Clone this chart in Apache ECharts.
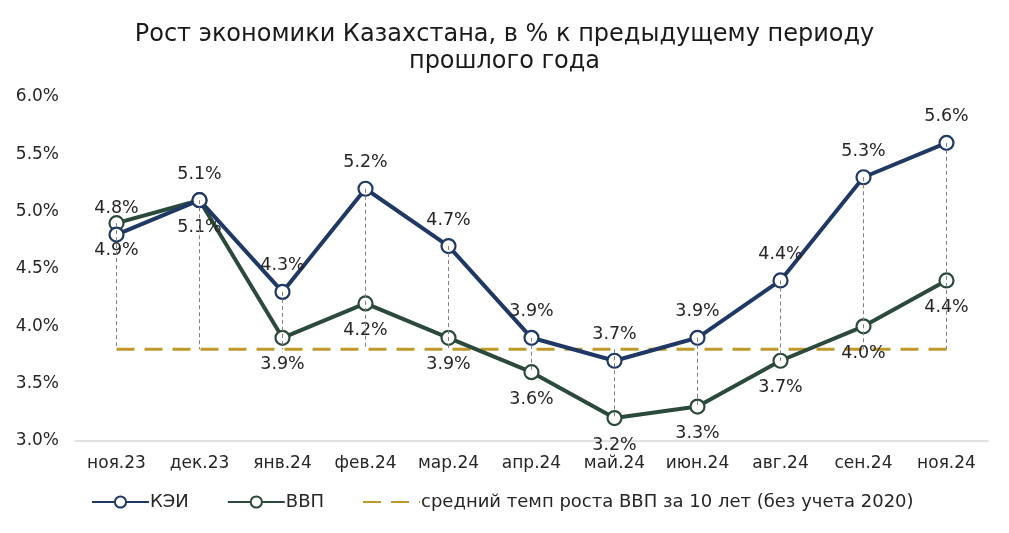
<!DOCTYPE html>
<html><head><meta charset="utf-8">
<script src="https://cdn.jsdelivr.net/npm/echarts@6/dist/echarts.min.js"></script>
<style>html,body{margin:0;padding:0;background:#fff}#c{width:1009px;height:533px}</style>
</head><body><div id="c"></div>
<script>
const categories = ['ноя.23','дек.23','янв.24','фев.24','мар.24','апр.24','май.24','июн.24','авг.24','сен.24','ноя.24'];
const kei = [4.8, 5.1, 4.3, 5.2, 4.7, 3.9, 3.7, 3.9, 4.4, 5.3, 5.6];
const vvp = [4.9, 5.1, 3.9, 4.2, 3.9, 3.6, 3.2, 3.3, 3.7, 4.0, 4.4];
const avg = [3.8, 3.8, 3.8, 3.8, 3.8, 3.8, 3.8, 3.8, 3.8, 3.8, 3.8];
const yTicks = [3.0, 3.5, 4.0, 4.5, 5.0, 5.5, 6.0];

const FONT = 'DejaVu Sans';
const hiLo = categories.map((c, i) => {
  const vals = [kei[i], vvp[i], avg[i]];
  return [{coord: [i, Math.max(...vals)]}, {coord: [i, Math.min(...vals)]}];
});
const chart = echarts.init(document.getElementById('c'), null, {renderer: 'canvas'});
chart.setOption({
  animation: false,
  textStyle: {fontFamily: FONT},
  title: {
    text: 'Рост экономики Казахстана, в % к предыдущему периоду\nпрошлого года',
    left: 'center', top: 16,
    textStyle: {fontFamily: FONT, fontSize: 24, fontWeight: 'normal', color: '#1a1a1a', lineHeight: 27}
  },
  grid: {left: 75, right: 21, top: 97, bottom: 92},
  legend: {
    bottom: 17, left: 86,
    itemWidth: 57, itemHeight: 14, itemGap: 38,
    textStyle: {fontFamily: FONT, fontSize: 18, color: '#262626', padding: [0, 0, 0, -4]},
    data: ['КЭИ', 'ВВП', {name: 'средний темп роста ВВП за 10 лет (без учета 2020)', itemStyle: {opacity: 0}}]
  },
  xAxis: {
    type: 'category', data: categories, boundaryGap: true,
    axisLine: {lineStyle: {color: '#d9d9d9', width: 1.5}},
    axisTick: {show: false},
    axisLabel: {fontFamily: FONT, fontSize: 17, color: '#262626', margin: 14, interval: 0}
  },
  yAxis: {
    type: 'value', min: 3.0, max: 6.0, interval: 0.5,
    splitLine: {show: false}, axisLine: {show: false}, axisTick: {show: false},
    axisLabel: {fontFamily: FONT, fontSize: 17, color: '#262626', margin: 16,
      formatter: v => v.toFixed(1) + '%'}
  },
  series: [
    {
      name: 'средний темп роста ВВП за 10 лет (без учета 2020)', type: 'line', data: avg,
      symbol: 'none', z: 1,
      lineStyle: {color: '#BF9A2A', width: 3, type: [18, 10]},
      itemStyle: {color: '#BF9A2A'},
      markLine: {
        silent: true, symbol: 'none', animation: false,
        label: {show: false},
        lineStyle: {color: '#7f7f7f', width: 1, type: [4, 3]},
        data: hiLo
      }
    },
    {
      name: 'ВВП', type: 'line', data: vvp, z: 3,
      symbol: 'circle', symbolSize: 14,
      lineStyle: {color: '#2B4A3B', width: 4},
      itemStyle: {color: '#ffffff', borderColor: '#2B4A3B', borderWidth: 2.2},
      label: {show: true, position: 'bottom', distance: 10, fontFamily: FONT, fontSize: 17.5, color: '#262626',
        formatter: p => p.value.toFixed(1) + '%'}
    },
    {
      name: 'КЭИ', type: 'line', data: kei, z: 4,
      symbol: 'circle', symbolSize: 14,
      lineStyle: {color: '#1F3864', width: 4},
      itemStyle: {color: '#ffffff', borderColor: '#1F3864', borderWidth: 2.2},
      label: {show: true, position: 'top', distance: 9, fontFamily: FONT, fontSize: 17.5, color: '#262626',
        formatter: p => p.value.toFixed(1) + '%'}
    }
  ]
});
</script></body></html>
